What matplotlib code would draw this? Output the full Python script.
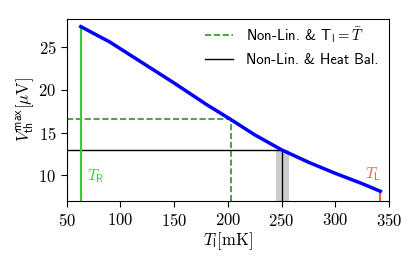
import matplotlib
matplotlib.use('Agg')
from matplotlib import pyplot as plt

plt.rcParams['font.family'] = 'serif'
plt.rcParams['font.serif'] = ['cmr10']
plt.rcParams['mathtext.fontset'] = 'cm'
plt.rcParams['axes.formatter.use_mathtext'] = True

# blue curve: max thermovoltage vs. lattice temperature
temps = [63, 75, 90, 120, 150, 180, 202, 225, 250, 275, 300, 325, 342]
volts = [27.4, 26.6, 25.6, 23.2, 20.8, 18.3, 16.6, 14.75, 13.0, 11.55, 10.25, 9.05, 8.15]

t_r, t_l = 63, 342            # reservoir temps
t_bar, v_bar = 202.5, 16.6    # Non-Lin. & T_l = T_bar
t_hb, v_hb = 250.5, 13.0      # Non-Lin. & heat balance
band = [245, 257]             # uncertainty of heat-balance temp
y_min, y_max = 7.0, 28.3

fig = plt.figure(figsize=(4.15, 2.66), dpi=100)
ax = fig.add_axes([0.161, 0.244, 0.776, 0.685])

ax.fill_between(band, [y_min, y_min], [v_hb, v_hb], color='#cccccc', lw=0)
ax.plot([50, t_bar], [v_bar, v_bar], ls='--', c='#229922', lw=1.2,
        label=r'Non-Lin. & $\mathsf{T_l} = \bar{T}$')
ax.plot([t_bar, t_bar], [y_min, v_bar], ls='--', c='#229922', lw=1.2)
ax.plot([50, t_hb], [v_hb, v_hb], c='black', lw=1.0,
        label='Non-Lin. & Heat Bal.')
ax.plot([t_hb, t_hb], [y_min, v_hb], c='black', lw=1.0)
ax.plot([t_r, t_r], [y_min, volts[0]], c='#33cc33', lw=1.5)
ax.plot([t_l, t_l], [y_min, volts[-1]], c='#ff3333', lw=1.2)
ax.plot(temps, volts, c='blue', lw=2.5)

ax.text(69, 9.4, r'$T_\mathsf{R}$', color='#33cc33', fontsize=11)
ax.text(328, 9.7, r'$T_\mathsf{L}$', color='#ff5555', fontsize=11)

ax.set_xlim(50, 350)
ax.set_ylim(y_min, y_max)
ax.set_xticks([50, 100, 150, 200, 250, 300, 350])
ax.set_yticks([10, 15, 20, 25])
ax.tick_params(axis='both', labelsize=12, direction='out', length=4)
ax.set_xlabel(r'$T_\mathsf{l}[\mathrm{mK}]$', fontsize=12, labelpad=1)
ax.set_ylabel(r'$V_\mathsf{th}^\mathsf{max}[\mu\mathrm{V}]$', fontsize=12, labelpad=2)

ax.legend(loc='upper right', bbox_to_anchor=(1.005, 1.033), frameon=False,
          prop={'family': 'cmss10', 'size': 10.6},
          handlelength=1.9, handletextpad=0.9, labelspacing=0.55,
          borderaxespad=0.2, borderpad=0.6)

fig.savefig('out.png', dpi=100)
